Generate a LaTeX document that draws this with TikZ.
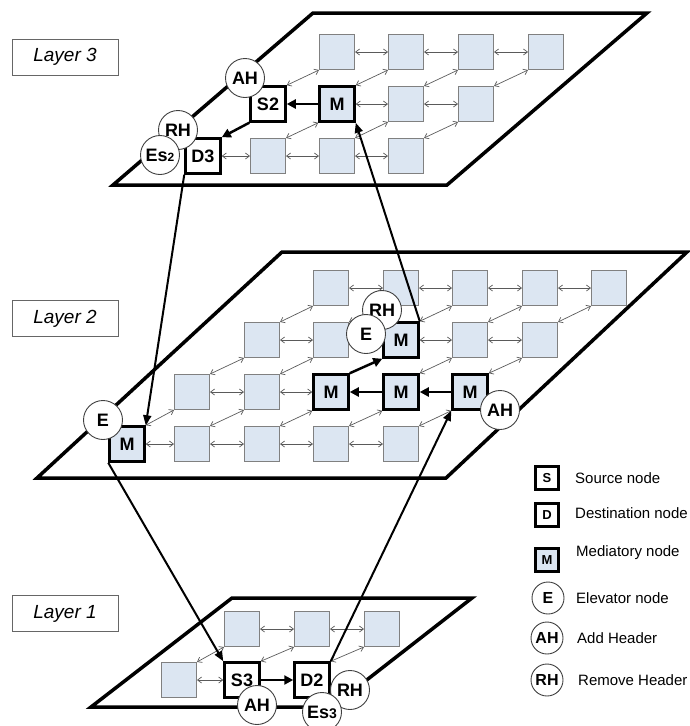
\documentclass[tikz,border=0pt]{standalone}
\usepackage{fontspec}
\setmainfont{Liberation Sans}
\usetikzlibrary{arrows.meta,positioning}
\definecolor{cfill}{HTML}{DCE6F2}
\definecolor{cedge}{HTML}{808080}
\definecolor{clink}{HTML}{5A5A5A}

\begin{document}
\begin{tikzpicture}[x=1pt,y=-1pt,
  font=\fontsize{18}{20}\selectfont\bfseries,
  plane/.style={draw=black,line width=3.5pt},
  cell/.style={draw=cedge,fill=cfill,line width=1pt,minimum size=35pt,inner sep=0pt},
  mnode/.style={cell,draw=black,line width=2.5pt},
  snode/.style={mnode,fill=white},
  hcirc/.style={circle,draw=black!75,fill=white,line width=0.9pt,minimum size=39pt,inner sep=0pt},
  tag/.style={draw=black!60,line width=1pt,minimum width=106pt,minimum height=36pt,
              font=\fontsize{19}{22}\selectfont\itshape},
  link/.style={draw=clink,line width=0.7pt,{Straight Barb[length=4pt,width=6pt]}-{Straight Barb[length=4pt,width=6pt]}},
  flow/.style={line width=2.5pt,-{Triangle[length=9pt,width=9pt]}},
  hop/.style={line width=2pt,-{Triangle[length=10pt,width=8pt]}},
  keybox/.style={minimum size=23pt,font=\fontsize{13}{15}\selectfont\bfseries},
  keycirc/.style={hcirc,minimum size=32pt,font=\fontsize{16}{18}\selectfont\bfseries},
  keytext/.style={anchor=west,inner sep=0pt,font=\fontsize{15}{18}\selectfont}]
  \useasboundingbox (0,0) rectangle (689,726);

  % layer labels
  \node[tag] (lab3) at (65,57) {Layer 3};
  \node[tag] (lab2) at (65,318.5) {Layer 2};
  \node[tag] (lab1) at (65,613.5) {Layer 1};

  % layer 3
  \draw[plane] (113,185) -- (313,13) -- (647,13) -- (447,185) -- cycle;
  \foreach \n/\x/\y in {c11/337/52,c12/406/52,c13/476/52,c14/546/52,c22/406/104,c23/476/104,
                        c31/268/156,c32/337/156,c33/406/156}
     \node[cell] (\n) at (\x,\y) {};
  \node[snode] (S2) at (268,104) {S2};
  \node[mnode] (M3) at (337,104) {M};
  \node[snode] (D3) at (203,156) {D3};
  \foreach \a/\b in {c11/c12,c12/c13,c13/c14,M3/c22,c22/c23,D3/c31,c31/c32,c32/c33}
     \draw[link] (\a) -- (\b);
  \foreach \a/\b in {S2/c11,M3/c12,c22/c13,c23/c14,c31/M3,c32/c22,c33/c23}
     \draw[link] (\a.north east) -- (\b.south west);
  \draw[flow] (M3) -- (S2);
  \draw[flow] (S2.south west) -- (D3.north east);

  % layer 2
  \draw[plane] (37,478) -- (282,252) -- (687,252) -- (446,478) -- cycle;
  \foreach \n/\x/\y in {a11/331/288,a12/401/288,a13/470/288,a14/540/288,a15/609/288,
                        a21/262/340,a22/331/340,a24/470/340,a25/540/340,
                        a31/192/392,a32/262/392,
                        a42/192/444,a43/262/444,a44/331/444,a45/401/444}
     \node[cell] (\n) at (\x,\y) {};
  \node[mnode] (Ma) at (127,444) {M};
  \node[mnode] (Mb) at (401,340) {M};
  \node[mnode] (Mc) at (331,392) {M};
  \node[mnode] (Md) at (401,392) {M};
  \node[mnode] (Me) at (470,392) {M};
  \foreach \a/\b in {a11/a12,a12/a13,a13/a14,a14/a15,a21/a22,a22/Mb,Mb/a24,a24/a25,
                     a31/a32,a32/Mc,Ma/a42,a42/a43,a43/a44,a44/a45}
     \draw[link] (\a) -- (\b);
  \foreach \a/\b in {a21/a11,a22/a12,Mb/a13,a24/a14,a25/a15,a31/a21,a32/a22,Md/a24,Me/a25,
                     Ma/a31,a42/a32,a43/Mc,a44/Md,a45/Me}
     \draw[link] (\a.north east) -- (\b.south west);
  \draw[flow] (Md) -- (Mc);
  \draw[flow] (Me) -- (Md);
  \draw[flow] (Mc.north east) -- (Mb.south west);

  % layer 1
  \draw[plane] (91,707) -- (232,598) -- (472,598) -- (332,707) -- cycle;
  \foreach \n/\x/\y in {b11/242/629,b12/312/629,b13/382/629,b21/179/680}
     \node[cell] (\n) at (\x,\y) {};
  \node[snode] (S3) at (242,680) {S3};
  \node[snode] (D2) at (312,680) {D2};
  \foreach \a/\b in {b11/b12,b12/b13,b21/S3}
     \draw[link] (\a) -- (\b);
  \foreach \a/\b in {b21/b11,S3/b12,D2/b13}
     \draw[link] (\a.north east) -- (\b.south west);
  \draw[flow] (S3) -- (D2);

  % between layers
  \draw[hop] (D3.south west) -- (Ma.north east);
  \draw[hop] (Mb.north east) -- (M3.south east);
  \draw[hop] (Ma.south west) -- (S3.north west);
  \draw[hop] (D2.north east) -- (Me.south west);

  % header / elevator marks
  \node[hcirc] (AH3) at (245,78) {AH};
  \node[hcirc] (RH3) at (178,130) {RH};
  \node[hcirc] (Es2) at (160,155) {Es{\fontsize{12}{13}\selectfont 2}};
  \node[hcirc] (RHb) at (382,310) {RH};
  \node[hcirc] (Eb) at (366,334) {E};
  \node[hcirc] (Ea) at (103,420) {E};
  \node[hcirc] (AHe) at (500,410) {AH};
  \node[hcirc] (AH1) at (257,705) {AH};
  \node[hcirc] (RH1) at (350,690) {RH};
  \node[hcirc] (Es3) at (322,712) {Es{\fontsize{14}{15}\selectfont 3}};

  % legend
  \node[snode,keybox] (kS) at (547,478) {S};
  \node[keytext] (kSt) at (575,478) {Source node};
  \node[snode,keybox] (kD) at (547,515) {D};
  \node[keytext] (kDt) at (575,513) {Destination node};
  \node[mnode,keybox] (kM) at (547,560) {M};
  \node[keytext] (kMt) at (576,553) {Mediatory node};
  \node[keycirc] (kE) at (548,598) {E};
  \node[keytext] (kEt) at (576,598) {Elevator node};
  \node[keycirc] (kA) at (547,638) {AH};
  \node[keytext] (kAt) at (577,638) {Add Header};
  \node[keycirc] (kR) at (547,680) {RH};
  \node[keytext] (kRt) at (578,680) {Remove Header};
\end{tikzpicture}
\end{document}
